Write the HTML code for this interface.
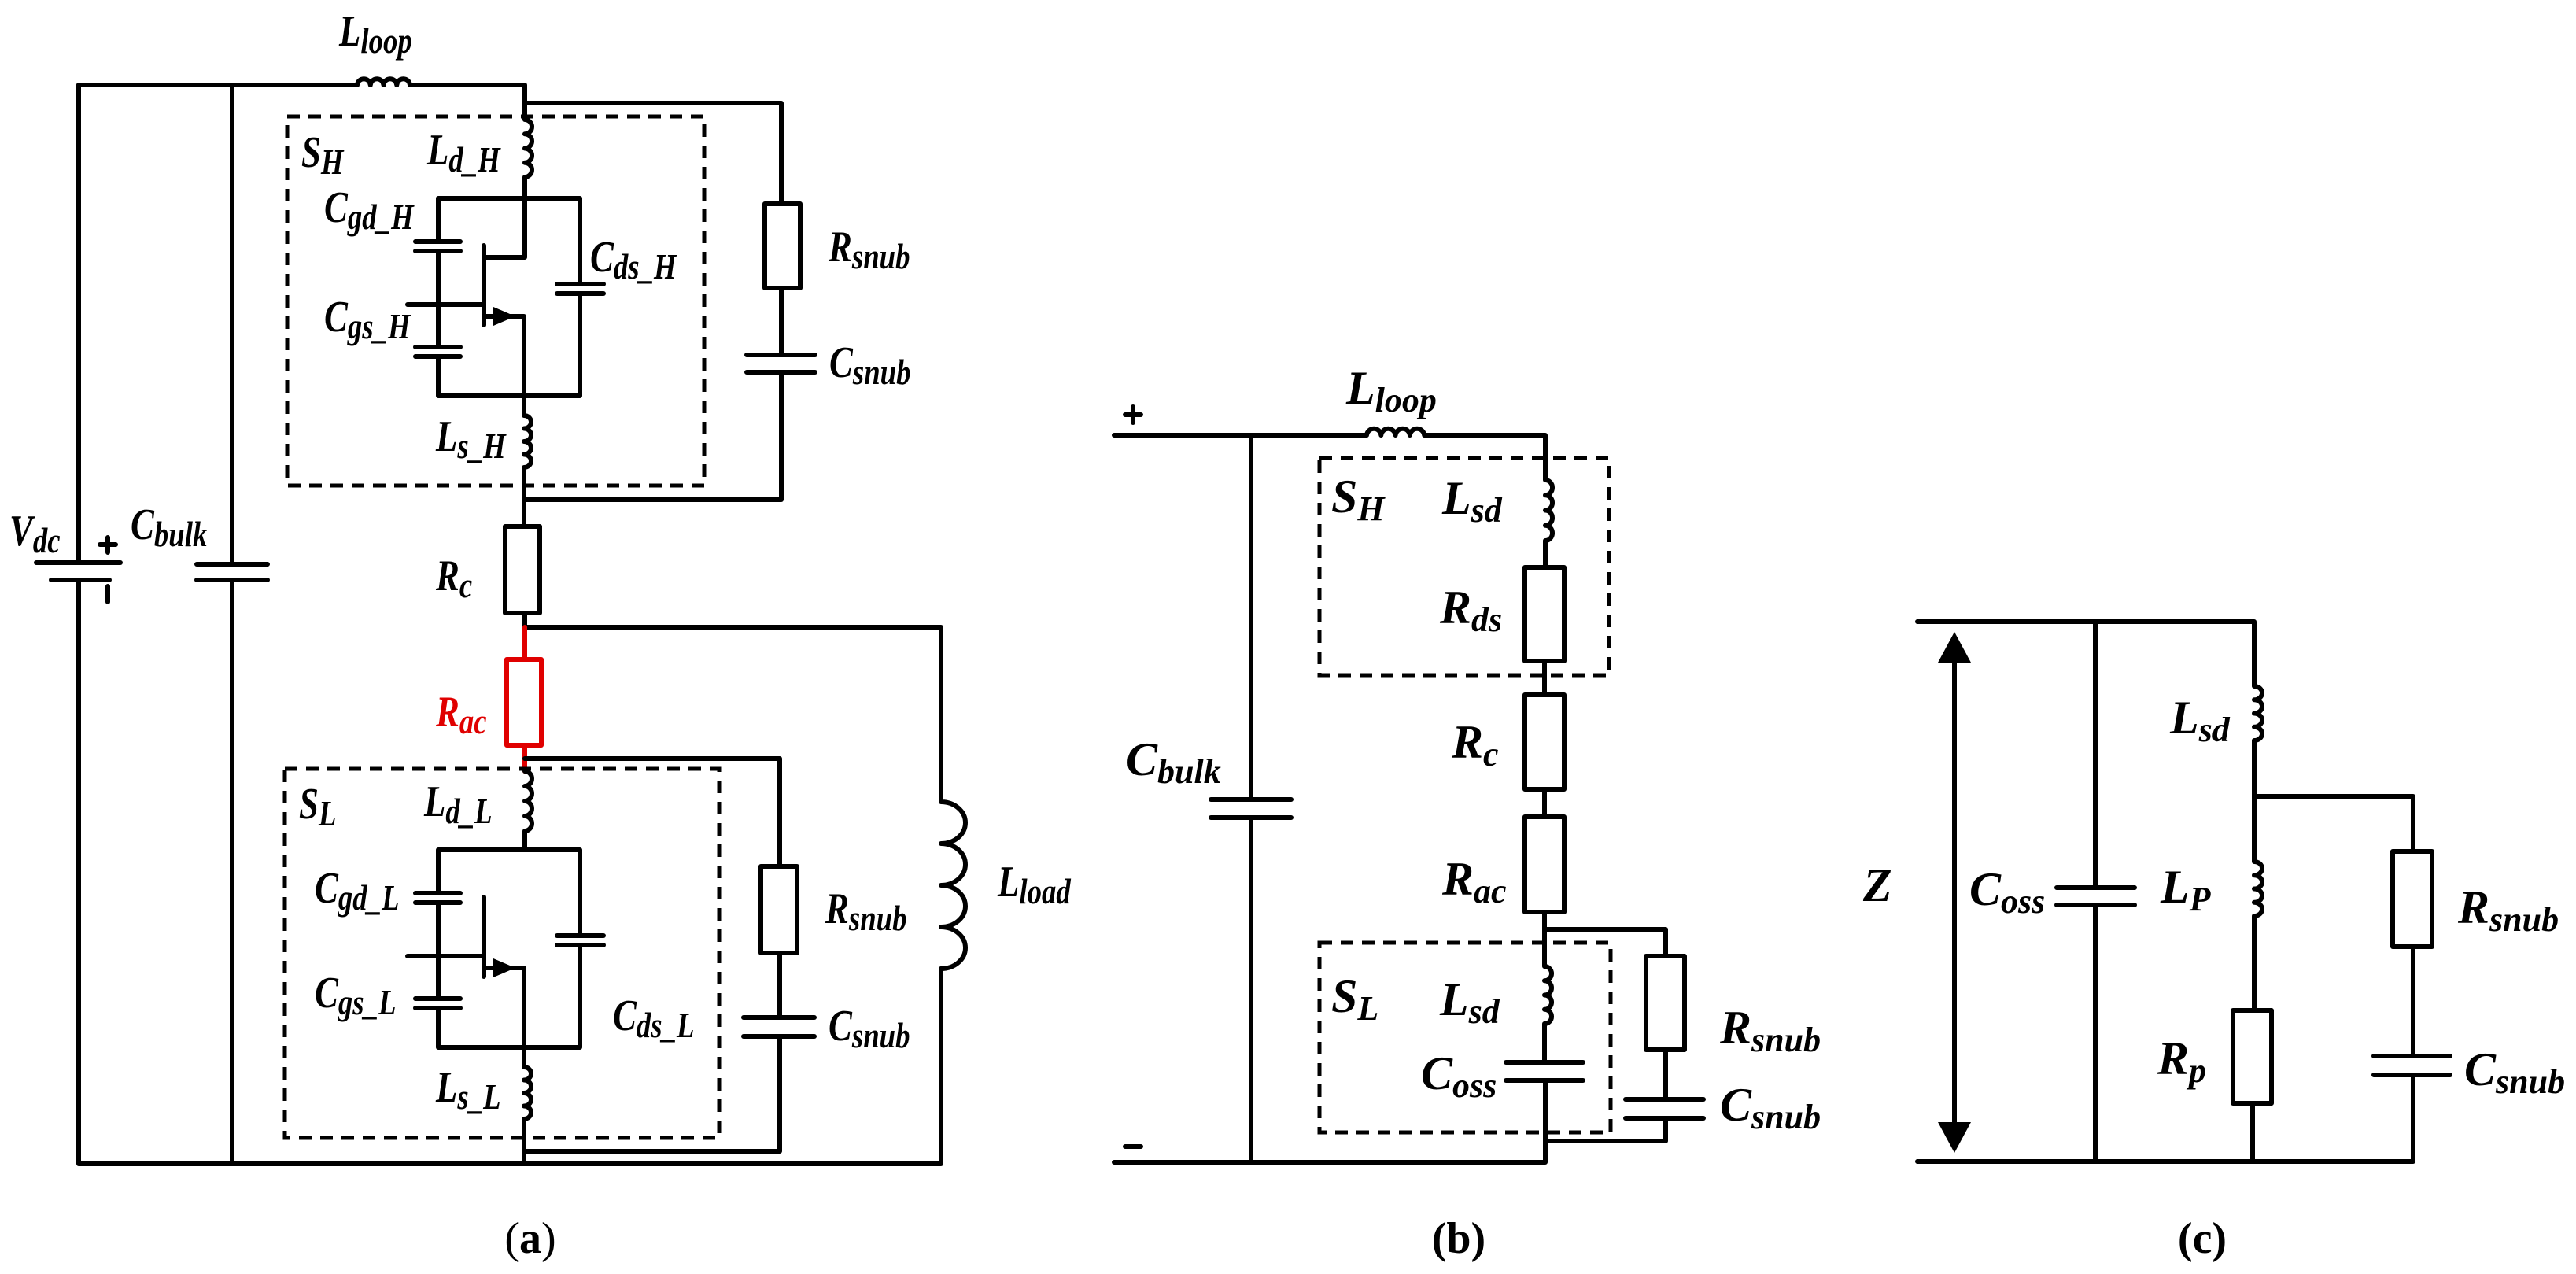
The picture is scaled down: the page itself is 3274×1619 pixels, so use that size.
<!DOCTYPE html>
<html><head><meta charset="utf-8"><style>
html,body{margin:0;padding:0;background:#fff}
svg{display:block}
.w{fill:none;stroke:#000;stroke-width:6;stroke-linecap:round;stroke-linejoin:round}
.r{fill:none;stroke:#e00000;stroke-width:6;stroke-linecap:round;stroke-linejoin:round}
.d{fill:none;stroke:#000;stroke-width:5;stroke-dasharray:16 11}
.ta{font-family:"Liberation Serif",serif;font-style:italic;font-weight:bold;font-size:56px}
.tb{font-family:"Liberation Serif",serif;font-style:italic;font-weight:bold;font-size:60px}
.s{font-size:46px}
.sb{font-size:44px}
.cap{font-family:"Liberation Serif",serif;font-size:56px}
</style></head><body>
<svg width="3274" height="1619" viewBox="0 0 3274 1619" xmlns="http://www.w3.org/2000/svg">
<!-- ===== (a) ===== -->
<path class="w" d="M100 108 H454 a8.4 8.4 0 0 1 16.75 0 a8.4 8.4 0 0 1 16.75 0 a8.4 8.4 0 0 1 16.75 0 a8.4 8.4 0 0 1 16.75 0 H667 V152 a9 9.1 0 0 1 0 18.25 a9 9.1 0 0 1 0 18.25 a9 9.1 0 0 1 0 18.25 a9 9.1 0 0 1 0 18.25 V327 H615"/>
<path class="w" d="M100 108 V715 M46 715 H153 M65 737 H139 M100 737 V1479 H1196 V1231"/>
<path class="w" d="M137 683 V702 M127 692 H147 M137 745 V765"/>
<path class="w" d="M295 108 V717 M250 717 H340 M250 737 H340 M295 737 V1479"/>
<g id="mos">
<path class="w" d="M557 252 H737 V361 M708 361 H767 M708 373 H767 M737 373 V503 H557 V453 M528 453 H585 M528 441 H585 M557 441 V319 M528 319 H585 M528 307 H585 M557 307 V252"/>
<path class="w" d="M615 312 V413 M518 387 H613 M615 402 H666 V503"/>
<polygon points="627,390 655,402 627,414" fill="#000"/>
</g>
<path class="w" d="M666 503 V528 a9 8.25 0 0 1 0 16.5 a9 8.25 0 0 1 0 16.5 a9 8.25 0 0 1 0 16.5 a9 8.25 0 0 1 0 16.5 V669"/>
<rect x="642" y="669" width="44" height="110" class="w"/>
<path class="w" d="M667 779 V797 H1196 V1019 a31 26.5 0 0 1 0 53 a31 26.5 0 0 1 0 53 a31 26.5 0 0 1 0 53 a31 26.5 0 0 1 0 53"/>
<path class="w" d="M667 131 H993 V259 M993 366 V451 M949 451 H1036 M949 473 H1036 M993 473 V635 H667"/>
<rect x="972" y="259" width="45" height="107" class="w"/>
<rect x="365" y="148" width="530" height="469" class="d"/>
<path class="r" d="M667 797 V838 M667 947 V980"/>
<rect x="644" y="838" width="44" height="109" class="r"/>
<path class="w" d="M667 980 a9 9.5 0 0 1 0 19 a9 9.5 0 0 1 0 19 a9 9.5 0 0 1 0 19 a9 9.5 0 0 1 0 19 V1080"/>
<use href="#mos" transform="translate(0,828)"/>
<path class="w" d="M666 1331 V1356 a9 8.25 0 0 1 0 16.5 a9 8.25 0 0 1 0 16.5 a9 8.25 0 0 1 0 16.5 a9 8.25 0 0 1 0 16.5 V1479"/>
<path class="w" d="M667 964 H991 V1101 M991 1211 V1293 M945 1293 H1035 M945 1317 H1035 M991 1317 V1463 H667"/>
<rect x="967" y="1101" width="46" height="110" class="w"/>
<rect x="362" y="977" width="552" height="469" class="d"/>
<text class="ta" transform="translate(431,58) scale(0.8,1)">L<tspan class="s" dy="9">loop</tspan></text>
<text class="ta" transform="translate(383,212) scale(0.8,1)">S<tspan class="s" dy="9">H</tspan></text>
<text class="ta" transform="translate(543,209) scale(0.8,1)">L<tspan class="s" dy="9">d_H</tspan></text>
<text class="ta" transform="translate(412,282) scale(0.8,1)">C<tspan class="s" dy="9">gd_H</tspan></text>
<text class="ta" transform="translate(750,345) scale(0.8,1)">C<tspan class="s" dy="9">ds_H</tspan></text>
<text class="ta" transform="translate(412,421) scale(0.8,1)">C<tspan class="s" dy="9">gs_H</tspan></text>
<text class="ta" transform="translate(554,573) scale(0.8,1)">L<tspan class="s" dy="9">s_H</tspan></text>
<text class="ta" transform="translate(1053,332) scale(0.8,1)">R<tspan class="s" dy="9">snub</tspan></text>
<text class="ta" transform="translate(1054,479) scale(0.8,1)">C<tspan class="s" dy="9">snub</tspan></text>
<text class="ta" transform="translate(12,693) scale(0.8,1)">V<tspan class="s" dy="9">dc</tspan></text>
<text class="ta" transform="translate(166,685) scale(0.8,1)">C<tspan class="s" dy="9">bulk</tspan></text>
<text class="ta" transform="translate(554,750) scale(0.8,1)">R<tspan class="s" dy="9">c</tspan></text>
<text class="ta" fill="#e00000" transform="translate(554,923) scale(0.8,1)">R<tspan class="s" dy="9">ac</tspan></text>
<text class="ta" transform="translate(380,1040) scale(0.8,1)">S<tspan class="s" dy="9">L</tspan></text>
<text class="ta" transform="translate(539,1037) scale(0.8,1)">L<tspan class="s" dy="9">d_L</tspan></text>
<text class="ta" transform="translate(400,1147) scale(0.8,1)">C<tspan class="s" dy="9">gd_L</tspan></text>
<text class="ta" transform="translate(400,1280) scale(0.8,1)">C<tspan class="s" dy="9">gs_L</tspan></text>
<text class="ta" transform="translate(779,1309) scale(0.8,1)">C<tspan class="s" dy="9">ds_L</tspan></text>
<text class="ta" transform="translate(554,1400) scale(0.8,1)">L<tspan class="s" dy="9">s_L</tspan></text>
<text class="ta" transform="translate(1049,1173) scale(0.8,1)">R<tspan class="s" dy="9">snub</tspan></text>
<text class="ta" transform="translate(1053,1322) scale(0.8,1)">C<tspan class="s" dy="9">snub</tspan></text>
<text class="ta" transform="translate(1268,1139) scale(0.8,1)">L<tspan class="s" dy="9">load</tspan></text>
<text class="cap" x="674" y="1592" text-anchor="middle">(<tspan font-weight="bold">a</tspan>)</text>

<!-- ===== (b) ===== -->
<path class="w" d="M1430 527 H1450 M1440 517 V537 M1430 1457 H1450"/>
<path class="w" d="M1416 553 H1737 a9.2 9.2 0 0 1 18.3 0 a9.2 9.2 0 0 1 18.3 0 a9.2 9.2 0 0 1 18.3 0 a9.2 9.2 0 0 1 18.3 0 H1964 V610 a9 9.6 0 0 1 0 19.25 a9 9.6 0 0 1 0 19.25 a9 9.6 0 0 1 0 19.25 a9 9.6 0 0 1 0 19.25 V721 M1963 840 V883 M1963 1003 V1038 M1963 1159 V1228 a9 9.1 0 0 1 0 18.25 a9 9.1 0 0 1 0 18.25 a9 9.1 0 0 1 0 18.25 a9 9.1 0 0 1 0 18.25 V1350 M1914 1350 H2012 M1914 1373 H2012 M1964 1373 V1477 H1416"/>
<rect x="1938" y="721" width="50" height="119" class="w"/>
<rect x="1938" y="883" width="50" height="120" class="w"/>
<rect x="1938" y="1038" width="50" height="121" class="w"/>
<path class="w" d="M1590 553 V1016 M1539 1016 H1641 M1539 1039 H1641 M1590 1039 V1477"/>
<path class="w" d="M1964 1181 H2117 V1215 M2117 1334 V1397 M2066 1397 H2165 M2066 1421 H2165 M2117 1421 V1450 H1964"/>
<rect x="2092" y="1215" width="49" height="119" class="w"/>
<rect x="1677" y="582" width="368" height="276" class="d"/>
<rect x="1677" y="1198" width="370" height="241" class="d"/>
<text class="tb" x="1711" y="513">L<tspan class="sb" dy="10">loop</tspan></text>
<text class="tb" x="1692" y="651">S<tspan class="sb" dy="10">H</tspan></text>
<text class="tb" x="1833" y="653">L<tspan class="sb" dy="10">sd</tspan></text>
<text class="tb" x="1830" y="792">R<tspan class="sb" dy="10">ds</tspan></text>
<text class="tb" x="1431" y="985">C<tspan class="sb" dy="10">bulk</tspan></text>
<text class="tb" x="1845" y="963">R<tspan class="sb" dy="10">c</tspan></text>
<text class="tb" x="1833" y="1137">R<tspan class="sb" dy="10">ac</tspan></text>
<text class="tb" x="1692" y="1286">S<tspan class="sb" dy="10">L</tspan></text>
<text class="tb" x="1830" y="1290">L<tspan class="sb" dy="10">sd</tspan></text>
<text class="tb" x="1806" y="1384">C<tspan class="sb" dy="10">oss</tspan></text>
<text class="tb" x="2186" y="1326">R<tspan class="sb" dy="10">snub</tspan></text>
<text class="tb" x="2186" y="1424">C<tspan class="sb" dy="10">snub</tspan></text>
<text class="cap" x="1854" y="1592" text-anchor="middle" font-weight="bold">(b)</text>

<!-- ===== (c) ===== -->
<path class="w" d="M2437 790 H2865 V872 a10 8.6 0 0 1 0 17.25 a10 8.6 0 0 1 0 17.25 a10 8.6 0 0 1 0 17.25 a10 8.6 0 0 1 0 17.25 V1095 a10 8.6 0 0 1 0 17.25 a10 8.6 0 0 1 0 17.25 a10 8.6 0 0 1 0 17.25 a10 8.6 0 0 1 0 17.25 V1284 M2863 1402 V1476 M2437 1476 H3067 V1366 M3017 1366 H3114 M3017 1342 H3114 M3067 1342 V1203 M3067 1082 V1012 H2865"/>
<rect x="2838" y="1284" width="49" height="118" class="w"/>
<rect x="3041" y="1082" width="50" height="121" class="w"/>
<path class="w" d="M2663 790 V1128 M2614 1128 H2713 M2614 1150 H2713 M2663 1150 V1476"/>
<path class="w" d="M2484 835 V1433"/>
<polygon points="2484,803 2463,842 2505,842" fill="#000"/>
<polygon points="2484,1465 2463,1426 2505,1426" fill="#000"/>
<text class="tb" x="2368" y="1145">Z</text>
<text class="tb" x="2503" y="1150">C<tspan class="sb" dy="10">oss</tspan></text>
<text class="tb" x="2758" y="932">L<tspan class="sb" dy="10">sd</tspan></text>
<text class="tb" x="2746" y="1147">L<tspan class="sb" dy="10">P</tspan></text>
<text class="tb" x="2742" y="1365">R<tspan class="sb" dy="10">p</tspan></text>
<text class="tb" x="3124" y="1173">R<tspan class="sb" dy="10">snub</tspan></text>
<text class="tb" x="3132" y="1379">C<tspan class="sb" dy="10">snub</tspan></text>
<text class="cap" x="2799" y="1592" text-anchor="middle" font-weight="bold">(c)</text>
</svg>
</body></html>
